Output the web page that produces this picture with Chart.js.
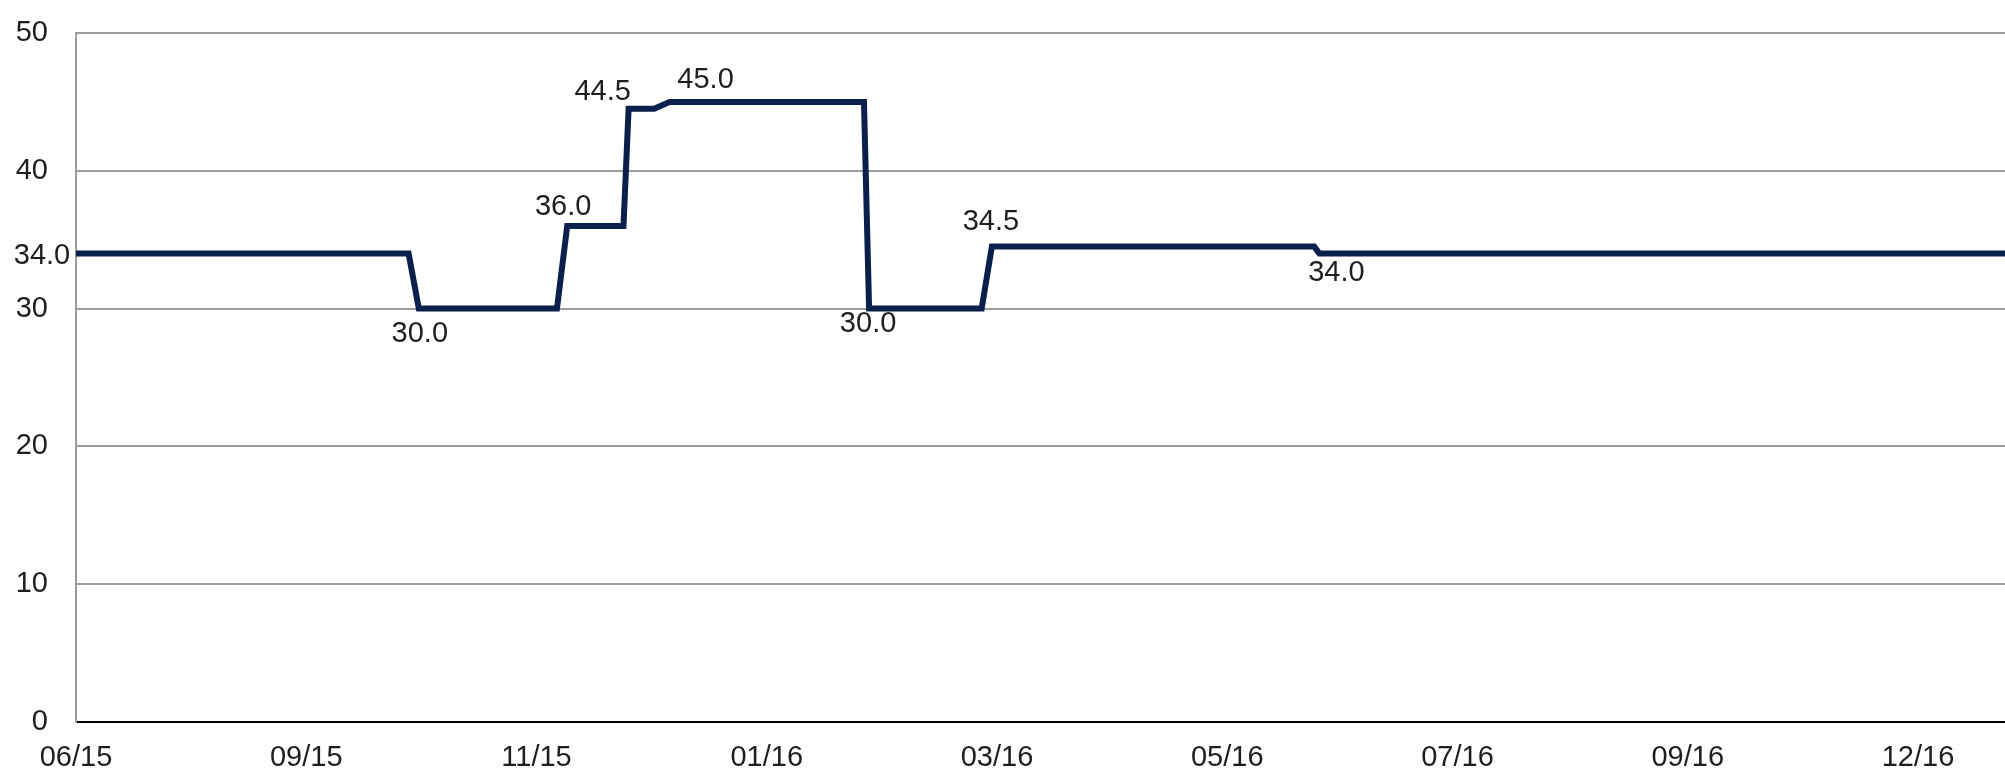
<!DOCTYPE html>
<html>
<head>
<meta charset="utf-8">
<script src="https://cdn.jsdelivr.net/npm/chart.js@4.4.1/dist/chart.umd.min.js"></script>
<style>
  html, body { margin: 0; padding: 0; background: #fff; }
  #wrap { width: 2005px; height: 770px; }
</style>
</head>
<body>
<div id="wrap"><canvas id="rateChart" width="2005" height="770"></canvas></div>
<script>
// x = observation number, one tick label every 45 observations
const tickLabels = ['06/15', '09/15', '11/15', '01/16', '03/16', '05/16', '07/16', '09/16', '12/16'];
const tickStep = 45;
const lastObs = 377;

// step series, only the points where the level changes
const obsIndex = [0, 65, 67, 94, 96, 107, 108, 113, 116, 154, 155, 177, 179, 242, 243, 377];
const rateValues = [34, 34, 30, 30, 36, 36, 44.5, 44.5, 45, 45, 30, 30, 34.5, 34.5, 34, 34];

// which points carry a value label, and where the text sits (px from the point)
const labeledPoints = [0, 2, 4, 6, 8, 10, 12, 14];
const labelOffsets = [[-34, 3], [1, 25], [-4, -19], [-26, -17], [36, -22], [-1, 15], [-1, -25], [17, 20]];

const FONT = "'Liberation Sans', Arial, sans-serif";
const TEXT_COLOR = '#1e1e1e';

const valueLabels = {
  id: 'valueLabels',
  afterDatasetsDraw(chart) {
    const meta = chart.getDatasetMeta(0);
    const ctx = chart.ctx;
    ctx.save();
    ctx.font = '29px ' + FONT;
    ctx.fillStyle = TEXT_COLOR;
    ctx.textAlign = 'center';
    ctx.textBaseline = 'middle';
    labeledPoints.forEach((idx, i) => {
      const pt = meta.data[idx];
      const [dx, dy] = labelOffsets[i];
      ctx.fillText(rateValues[idx].toFixed(1), pt.x + dx, pt.y + dy);
    });
    ctx.restore();
  }
};

const ctx = document.getElementById('rateChart').getContext('2d');
new Chart(ctx, {
  type: 'line',
  data: {
    datasets: [{
      data: obsIndex.map((x, i) => ({ x: x, y: rateValues[i] })),
      borderColor: '#0a1f4c',
      borderWidth: 6,
      borderJoinStyle: 'miter',
      tension: 0,
      pointRadius: 0,
      fill: false
    }]
  },
  options: {
    responsive: false,
    animation: false,
    devicePixelRatio: 1,
    layout: { padding: { top: 33, right: 0, bottom: 0, left: 0 } },
    plugins: {
      legend: { display: false },
      tooltip: { enabled: false }
    },
    scales: {
      x: {
        type: 'linear',
        min: 0,
        max: lastObs,
        afterBuildTicks: scale => {
          scale.ticks = tickLabels.map((_, i) => ({ value: i * tickStep }));
        },
        afterFit: scale => { scale.height = 48; },
        grid: { display: false, drawTicks: false },
        border: { display: true, color: '#000', width: 2 },
        ticks: {
          autoSkip: false,
          maxRotation: 0,
          padding: 19,
          color: TEXT_COLOR,
          font: { family: FONT, size: 29 },
          callback: value => tickLabels[Math.round(value / tickStep)]
        }
      },
      y: {
        min: 0,
        max: 50,
        afterFit: scale => {
          scale.width = 76;
          scale.paddingTop = 0;
          scale.paddingBottom = 0;
        },
        grid: {
          drawTicks: false,
          lineWidth: 2,
          color: c => (c.tick && c.tick.value === 0) ? 'rgba(0,0,0,0)' : '#9c9c9c'
        },
        border: { display: true, color: '#9c9c9c', width: 2 },
        ticks: {
          stepSize: 10,
          padding: 28,
          color: TEXT_COLOR,
          font: { family: FONT, size: 29 }
        }
      }
    }
  },
  plugins: [valueLabels]
});
</script>
</body>
</html>
